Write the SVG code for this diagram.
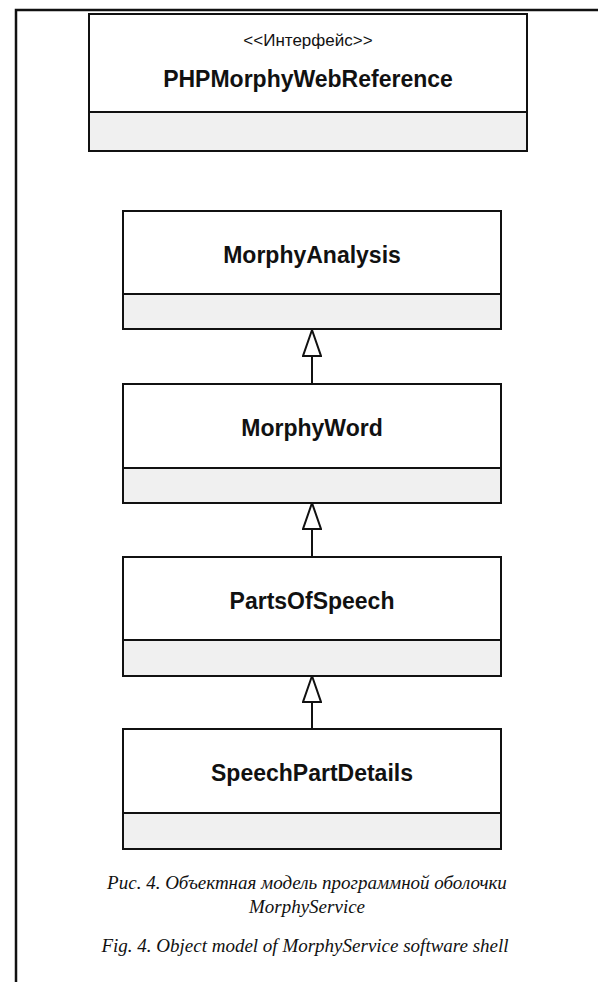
<svg xmlns="http://www.w3.org/2000/svg" width="598" height="982" viewBox="0 0 598 982">
  <style>
    .frame { fill: none; stroke: #111; stroke-width: 2.5; }
    .head { fill: #fff; stroke: #111; stroke-width: 2; }
    .comp { fill: #f0f0f0; stroke: #111; stroke-width: 2; }
    .name { font-family: "Liberation Sans", Arial, sans-serif; font-weight: bold; font-size: 23px; fill: #111; text-anchor: middle; }
    .stereo { font-family: "Liberation Sans", Arial, sans-serif; font-size: 17px; fill: #111; text-anchor: middle; }
    .edge { fill: none; stroke: #111; stroke-width: 2; }
    .caption { font-family: "Liberation Serif", "Times New Roman", serif; font-style: italic; font-size: 19px; fill: #111; text-anchor: middle; }
  </style>
  <defs>
    <!-- hollow generalisation head; base at the line end, apex 26px beyond -->
    <marker id="gen" viewBox="0 0 28 20" refX="1" refY="10" markerWidth="28" markerHeight="20" markerUnits="userSpaceOnUse" orient="auto">
      <path d="M27 10 L1 1 L1 19 Z" fill="#fff" stroke="#111" stroke-width="2"/>
    </marker>
  </defs>

  <rect width="598" height="982" fill="#fff"/>

  <!-- page frame -->
  <path class="frame" d="M16 982 V10 H598"/>

  <!-- interface -->
  <g id="PHPMorphyWebReference">
    <rect class="head" x="89" y="14" width="438" height="98"/>
    <rect class="comp" x="89" y="112" width="438" height="39"/>
    <text class="stereo" x="308" y="46">&lt;&lt;Интерфейс&gt;&gt;</text>
    <text class="name" x="308" y="87">PHPMorphyWebReference</text>
  </g>

  <g id="MorphyAnalysis">
    <rect class="head" x="123" y="211" width="378" height="83"/>
    <rect class="comp" x="123" y="294" width="378" height="35"/>
    <text class="name" x="312" y="263">MorphyAnalysis</text>
  </g>

  <g id="MorphyWord">
    <rect class="head" x="123" y="384" width="378" height="84"/>
    <rect class="comp" x="123" y="468" width="378" height="35"/>
    <text class="name" x="312" y="436">MorphyWord</text>
  </g>

  <g id="PartsOfSpeech">
    <rect class="head" x="123" y="557" width="378" height="83"/>
    <rect class="comp" x="123" y="640" width="378" height="36"/>
    <text class="name" x="312" y="609">PartsOfSpeech</text>
  </g>

  <g id="SpeechPartDetails">
    <rect class="head" x="123" y="729" width="378" height="84"/>
    <rect class="comp" x="123" y="813" width="378" height="36"/>
    <text class="name" x="312" y="781">SpeechPartDetails</text>
  </g>

  <!-- generalisation links -->
  <g id="connectors">
    <path class="edge" d="M312 384 V356" marker-end="url(#gen)"/>
    <path class="edge" d="M312 557 V529" marker-end="url(#gen)"/>
    <path class="edge" d="M312 729 V702" marker-end="url(#gen)"/>
  </g>

  <!-- figure caption -->
  <text class="caption" x="307" y="889">Рис. 4. Объектная модель программной оболочки</text>
  <text class="caption" x="307" y="913">MorphyService</text>
  <text class="caption" x="305" y="952">Fig. 4. Object model of MorphyService software shell</text>
</svg>
